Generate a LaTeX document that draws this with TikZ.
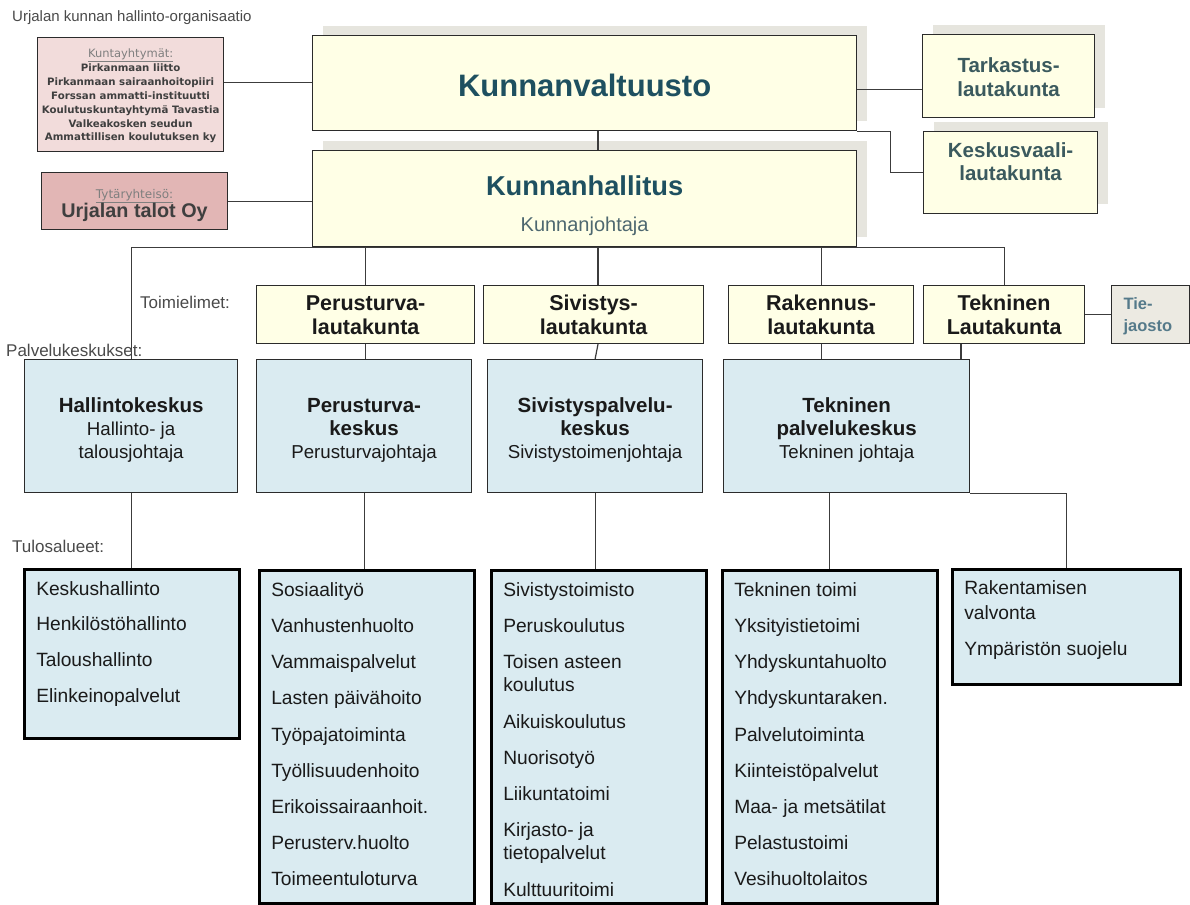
\documentclass[tikz,border=0pt]{standalone}
\usepackage{fontspec}
\setmainfont{Liberation Sans}
\newfontfamily\dvs{DejaVu Sans}
\usetikzlibrary{shadows}

% palette
\definecolor{yel}{HTML}{FFFFE6}
\definecolor{shad}{HTML}{E6E5DE}
\definecolor{blu}{HTML}{DAEBF1}
\definecolor{pinkA}{HTML}{F2DCDB}
\definecolor{pinkB}{HTML}{E2B6B5}
\definecolor{tanfill}{HTML}{ECEAE2}
\definecolor{hdteal}{HTML}{1E5060}
\definecolor{subteal}{HTML}{4E6870}
\definecolor{boardteal}{HTML}{3B5A5E}
\definecolor{tiec}{HTML}{557A8A}
\definecolor{edge}{HTML}{2B2B2B}
\definecolor{wire}{HTML}{3C3C3C}
\definecolor{lbl}{HTML}{4A4A4A}
\definecolor{ink}{HTML}{1A1A1A}
\definecolor{pinkhead}{HTML}{7F7F7F}
\definecolor{pinktext}{HTML}{3F3F3F}

% font size with explicit baseline skip (both in pt)
\newcommand{\setfs}[2]{\fontsize{#1pt}{#2pt}\selectfont}
% centred text block: width, height, first baseline below top, content
\newcommand{\centrebox}[4]{\parbox[c][#2pt][t]{#1pt}{\centering\rule{0pt}{#3pt}#4\par}}
% left aligned text block: width, height, first baseline below top, content
\newcommand{\listbox}[4]{\parbox[c][#2pt][t]{#1pt}{\raggedright\leftskip=12pt\relax\rule{0pt}{#3pt}#4\par}}

\tikzset{
  box/.style={draw=edge, line width=1.2pt, inner sep=0pt, anchor=north west, text=ink},
  council/.style={box, fill=yel, drop shadow={shadow xshift=10pt, shadow yshift=10pt, fill=shad, opacity=1}},
  board/.style={box, fill=yel},
  centre/.style={box, fill=blu},
  unitlist/.style={box, fill=blu, draw=black, line width=2.5pt},
  conn/.style={draw=wire, line width=1.2pt},
  caption/.style={anchor=base west, text=lbl, inner sep=0pt},
}

\begin{document}
\begin{tikzpicture}[x=1pt, y=-1pt]
\fill[white] (0,0) rectangle (1190,904);
\useasboundingbox (0,0) rectangle (1190,904);

% affiliated bodies
\node[box, fill=pinkA] (kunta) at (37,37) {\centrebox{186}{114}{20}{\dvs\setfs{11.5}{13.9}\textcolor{pinkhead}{\underline{Kuntayhtymät:}}\\
  \bfseries\setfs{10.2}{13.9}\color{pinktext}Pirkanmaan liitto\\Pirkanmaan sairaanhoitopiiri\\Forssan ammatti-instituutti\\Koulutuskuntayhtymä Tavastia\\Valkeakosken seudun\\Ammattillisen koulutuksen ky}};
\node[box, fill=pinkB] (tyta) at (41,172) {\centrebox{186}{57}{26}{\dvs\setfs{12}{19}\textcolor{pinkhead}{\underline{Tytäryhteisö:}}\\
  \rmfamily\bfseries\setfs{19.8}{19}\color{pinktext}Urjalan talot Oy}};

% council and board
\node[council] (kv) at (312,35) {\centrebox{544}{95}{61}{\bfseries\setfs{31}{36}\color{hdteal}Kunnanvaltuusto}};
\node[council] (kh) at (312,150) {\centrebox{544}{96}{45}{\bfseries\setfs{27.3}{36}\color{hdteal}Kunnanhallitus\\
  \mdseries\setfs{20}{36}\color{subteal}Kunnanjohtaja}};
\node[council] (tark) at (922,34) {\centrebox{172}{83}{38}{\bfseries\setfs{20.5}{24}\color{boardteal}Tarkastus-\\lautakunta}};
\node[council] (ksv) at (923,131) {\centrebox{174}{82}{26}{\bfseries\setfs{20.5}{23}\color{boardteal}Keskusvaali-\\lautakunta}};

% committees
\node[board] (pl) at (256,285) {\centrebox{218}{58}{24.5}{\bfseries\setfs{21.5}{24}Perusturva-\\lautakunta}};
\node[board] (sl) at (483,285) {\centrebox{220}{58}{24.5}{\bfseries\setfs{21.5}{24}Sivistys-\\lautakunta}};
\node[board] (rl) at (728,285) {\centrebox{185}{58}{24.5}{\bfseries\setfs{21.5}{24}Rakennus-\\lautakunta}};
\node[board] (tl) at (923,285) {\centrebox{161}{58}{24.5}{\bfseries\setfs{21.5}{24}Tekninen\\Lautakunta}};
\node[box, fill=tanfill] (tj) at (1111,285) {\listbox{78}{58}{24}{\bfseries\setfs{16.5}{22}\color{tiec}Tie-\\jaosto}};

% service centres
\node[centre] (hk) at (24,359) {\centrebox{213}{133}{53}{\bfseries\setfs{20.5}{22.7}Hallintokeskus\\
  \mdseries\setfs{18.7}{22.7}Hallinto- ja\\talousjohtaja}};
\node[centre] (pk) at (256,359) {\centrebox{215}{133}{53}{\bfseries\setfs{20.5}{22.7}Perusturva-\\keskus\\
  \mdseries\setfs{18.7}{22.7}Perusturvajohtaja}};
\node[centre] (sk) at (487,359) {\centrebox{215}{133}{53}{\bfseries\setfs{20.5}{22.7}Sivistyspalvelu-\\keskus\\
  \mdseries\setfs{18.7}{22.7}Sivistystoimenjohtaja}};
\node[centre] (tk) at (723,359) {\centrebox{246}{133}{53}{\bfseries\setfs{20.5}{22.7}Tekninen\\palvelukeskus\\
  \mdseries\setfs{18.7}{22.7}Tekninen johtaja}};

% result areas
\node[unitlist] (l1) at (23,568) {\listbox{215}{169}{26}{\setfs{19.2}{23.2}Keskushallinto\\[12.5pt]Henkilöstöhallinto\\[12.5pt]Taloushallinto\\[12.5pt]Elinkeinopalvelut}};
\node[unitlist] (l2) at (258,569) {\listbox{215}{333}{26}{\setfs{19.2}{23.2}Sosiaalityö\\[13pt]Vanhustenhuolto\\[13pt]Vammaispalvelut\\[13pt]Lasten päivähoito\\[13pt]Työpajatoiminta\\[13pt]Työllisuudenhoito\\[13pt]Erikoissairaanhoit.\\[13pt]Perusterv.huolto\\[13pt]Toimeentuloturva}};
\node[unitlist] (l3) at (490,569) {\listbox{215}{333}{26}{\setfs{19.2}{23.2}Sivistystoimisto\\[13pt]Peruskoulutus\\[13pt]Toisen asteen\\koulutus\\[13pt]Aikuiskoulutus\\[13pt]Nuorisotyö\\[13pt]Liikuntatoimi\\[13pt]Kirjasto- ja\\tietopalvelut\\[13pt]Kulttuuritoimi}};
\node[unitlist] (l4) at (721,569) {\listbox{215}{333}{26}{\setfs{19.2}{23.2}Tekninen toimi\\[13pt]Yksityistietoimi\\[13pt]Yhdyskuntahuolto\\[13pt]Yhdyskuntaraken.\\[13pt]Palvelutoiminta\\[13pt]Kiinteistöpalvelut\\[13pt]Maa- ja metsätilat\\[13pt]Pelastustoimi\\[13pt]Vesihuoltolaitos}};
\node[unitlist] (l5) at (951,568) {\listbox{228}{115}{25.5}{\setfs{19.2}{23.2}Rakentamisen\\[1.8pt]valvonta\\[12.8pt]Ympäristön suojelu}};

% helper coordinates for off-centre connectors
\coordinate (ax) at (598,0);
\coordinate (tx) at (961,0);
\coordinate (k1) at ([yshift=12pt]kunta.east);
\coordinate (t1) at ([yshift=-13.5pt]tark.west);

% connectors
\draw[conn] (k1) -- (k1 -| kv.west);
\draw[conn] (tyta.east) -- (tyta.east -| kh.west);
\draw[conn] (kv.south -| ax) -- (kh.north -| ax);
\draw[conn] (t1 -| kv.east) -- (t1);
\draw[conn] (kv.south east) -- ++(33,0) |- (ksv.west);

\draw[conn] (hk.north) |- (tl.north |- kh.south) -- (tl.north);
\draw[conn] (pl.north |- kh.south) -- (pl.north);
\draw[conn] (ax |- kh.south) -- (ax |- sl.north);
\draw[conn] (rl.north |- kh.south) -- (rl.north);

\draw[conn] (pl.south) -- (pl.south |- pk.north);
\draw[conn] (ax |- sl.south) -- (sk.north);
\draw[conn] (rl.south) -- (rl.south |- tk.north);
\draw[conn] (tx |- tl.south) -- (tx |- tk.north);
\draw[conn] (tl.east) -- (tj.west);

\draw[conn] (hk.south) -- (hk.south |- l1.north);
\draw[conn] (pk.south) -- (pk.south |- l2.north);
\draw[conn] (sk.south) -- (sk.south |- l3.north);
\draw[conn] (l4.north |- tk.south) -- (l4.north);
\draw[conn] (tk.south east) -| (l5.north);

% row captions
\node[caption] (title) at (12,22) {\setfs{15}{18}Urjalan kunnan hallinto-organisaatio};
\node[caption] (capA) at (140,308) {\setfs{17}{20}Toimielimet:};
\node[caption] (capB) at (6,356) {\setfs{17}{20}Palvelukeskukset:};
\node[caption] (capC) at (12,552) {\setfs{17}{20}Tulosalueet:};
\end{tikzpicture}
\end{document}
